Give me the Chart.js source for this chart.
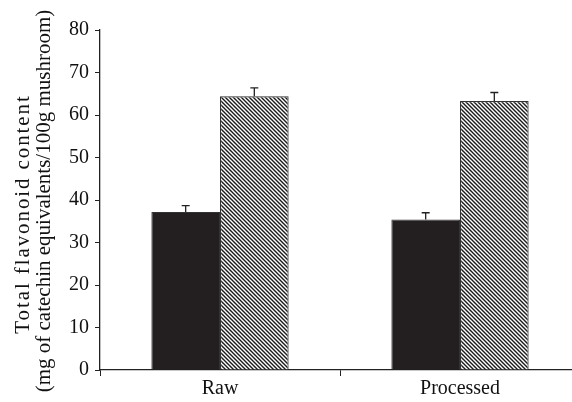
<!DOCTYPE html>
<html><head><meta charset="utf-8">
<script src="https://cdn.jsdelivr.net/npm/chart.js@4/dist/chart.umd.min.js"></script>
<style>html,body{margin:0;padding:0;background:#fff;overflow:hidden}#wrap{width:572px;height:402px;overflow:hidden}</style>
</head><body><div id="wrap"><canvas id="c" width="580" height="402"></canvas></div>
<script>
const categories = ['Raw', 'Processed'];
const series1Values = [37.2, 35.4];
const series1Errors = [1.5, 1.6];
const series2Values = [64.4, 63.3];
const series2Errors = [2.0, 2.0];
const yTicks = [0, 10, 20, 30, 40, 50, 60, 70, 80];
const yTitleLines = ['Total flavonoid content', '(mg of catechin equivalents/100g mushroom)'];

function hatch() {
  const s = 4;
  const c = document.createElement('canvas');
  c.width = s; c.height = s;
  const g = c.getContext('2d');
  g.fillStyle = '#fff'; g.fillRect(0, 0, s, s);
  g.strokeStyle = '#1a1a1a'; g.lineWidth = 1.4;
  g.beginPath();
  g.moveTo(-1, -1); g.lineTo(s + 1, s + 1);
  g.moveTo(-1, s - 1); g.lineTo(1, s + 1);
  g.moveTo(s - 1, -1); g.lineTo(s + 1, 1);
  g.stroke();
  return g.createPattern(c, 'repeat');
}

const errPlugin = {
  id: 'errbars',
  afterDatasetsDraw(chart) {
    const ctx = chart.ctx, y = chart.scales.y;
    chart.data.datasets.forEach((ds, i) => {
      const meta = chart.getDatasetMeta(i);
      meta.data.forEach((bar, j) => {
        const top = y.getPixelForValue(ds.data[j] + ds.errors[j]);
        const base = y.getPixelForValue(ds.data[j]);
        ctx.save();
        ctx.strokeStyle = '#222'; ctx.lineWidth = 1.3;
        ctx.beginPath();
        ctx.moveTo(bar.x, base); ctx.lineTo(bar.x, top);
        ctx.moveTo(bar.x - 4, top); ctx.lineTo(bar.x + 4, top);
        ctx.stroke();
        ctx.restore();
      });
    });
  }
};

const serif = "'Liberation Serif', 'Times New Roman', serif";

const titlePlugin = {
  id: 'ytitle',
  afterDraw(chart) {
    const ctx = chart.ctx;
    const area = chart.chartArea;
    const cy = (area.top + area.bottom) / 2;
    ctx.save();
    ctx.fillStyle = '#111';
    ctx.textAlign = 'center';
    ctx.textBaseline = 'middle';
    ctx.font = '21px ' + serif;
    const specs = [{ x: 23, dy: 14, ls: '1.9px' }, { x: 44, dy: 1, ls: '0px' }];
    yTitleLines.forEach((t, i) => {
      ctx.save();
      ctx.translate(specs[i].x, cy + specs[i].dy);
      ctx.rotate(-Math.PI / 2);
      ctx.letterSpacing = specs[i].ls;
      ctx.fillText(t, 0, 0);
      ctx.restore();
    });
    ctx.restore();
  }
};

new Chart(document.getElementById('c'), {
  type: 'bar',
  data: {
    labels: categories,
    datasets: [
      { data: series1Values, errors: series1Errors, backgroundColor: '#231f20', borderColor: '#333', borderWidth: 1 },
      { data: series2Values, errors: series2Errors, backgroundColor: hatch(), borderColor: '#333', borderWidth: 1.2 }
    ]
  },
  options: {
    responsive: false, animation: false, devicePixelRatio: 1,
    layout: { padding: { top: 30, right: 0, left: 0, bottom: 0 } },
    plugins: { legend: { display: false }, tooltip: { enabled: false } },
    datasets: { bar: { categoryPercentage: 0.572, barPercentage: 1.0 } },
    scales: {
      x: {
        grid: { display: true, drawOnChartArea: false, offset: true, color: '#222', tickLength: 6, tickColor: '#222' },
        border: { color: '#222', width: 1.3 },
        ticks: { color: '#111', font: { family: serif, size: 20, lineHeight: 1.0 }, padding: 3 },
        afterFit(s) { s.height = 32; }
      },
      y: {
        min: 0, max: 80,
        afterBuildTicks(s) { s.ticks = yTicks.map(v => ({ value: v })); },
        grid: { display: true, drawOnChartArea: false, color: '#222', tickLength: 5, tickColor: '#222' },
        border: { color: '#222', width: 1.3 },
        ticks: { color: '#111', font: { family: serif, size: 20 }, padding: 6 },
        afterFit(s) { s.width = 100; }
      }
    }
  },
  plugins: [errPlugin, titlePlugin]
});
</script></body></html>
